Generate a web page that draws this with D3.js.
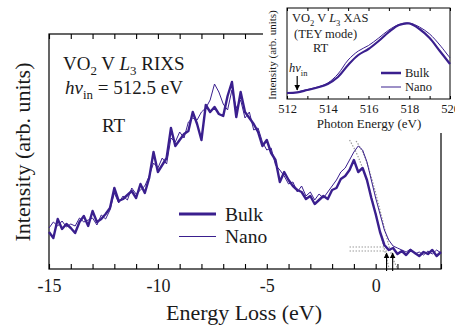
<!DOCTYPE html>
<html><head><meta charset="utf-8">
<script src="https://cdn.jsdelivr.net/npm/d3@7"></script>
<style>
body{margin:0;background:#fff}
svg{display:block}
svg text{font-family:"Liberation Serif","Times New Roman",serif;fill:#1a1a1a}
</style>
</head><body>
<svg id="c" width="455" height="330"></svg>
<script>
// ---------- Main RIXS data (energy loss grid: -15 .. 3 eV, step 0.2) ----------
const energyStart = -15, energyStep = 0.2;
const bulkRIXS = [37,31,50,40,45,41,36,47,53,43,58,47,50,55,61,81,68,70,74,78,
  71,85,76,91,117,97,104,111,141,123,129,135,138,157,145,129,164,157,162,155,
  153,173,187,152,177,157,151,145,137,123,129,116,109,87,97,89,83,79,77,70,
  73,65,69,73,70,79,81,90,93,99,109,97,101,89,71,55,37,24,19,21,
  15,18,14,19,16,13,17,15,19,13,17];
const nanoRIXS = [41,47,43,48,42,45,43,51,47,49,51,44,54,50,59,76,66,73,69,81,
  75,79,83,93,106,101,111,105,131,127,137,131,147,151,149,157,161,169,185,177,
  165,159,179,161,169,151,157,139,141,127,119,121,104,99,93,85,87,77,83,73,
  77,69,75,71,77,83,89,97,101,109,117,123,119,107,89,71,55,39,29,23,
  21,19,17,20,15,17,14,18,15,19,16];
// grey dotted edge fits
const fitBulkE = [-1.2,-0.8,-0.4,0.0,0.2,0.4,0.6];
const fitBulkV = [129,112,88,56,38,20,2];
const fitNanoE = [-0.9,-0.5,-0.1,0.3,0.6,0.8,1.0];
const fitNanoV = [128,112,84,50,24,10,1];
const baseLineE = [-1.2, 0.6];
const baseLineV = [22, 18];
const arrowE = [0.5, 0.78];
const mainTickLabels = [-15,-10,-5,0];

// ---------- Inset XAS data ----------
const xasE = [512,512.5,513,513.5,514,514.5,515,515.5,516,516.5,517,517.5,518,518.5,519,519.5,520];
const xasBulk = [6,6.5,9,11.5,15,22,34,44,50,58,67,74,75.5,70,61,48,35];
const xasNano = [6,7,9.5,12,16,25,39,48,53.5,61,69,74.5,76,72,65,54,41];
const xasTickLabels = [512,514,516,518,520];
const hvIn = 512.5;

const purple = "#3a1f8e";
const FONT = '"Liberation Serif","Times New Roman",serif';
const svg = d3.select("#c").attr("font-family", FONT);

// ---------- Main chart ----------
const x = d3.scaleLinear().domain([-15,3]).range([49,441]);
const y = d3.scaleLinear().domain([0,235]).range([269,34]);
const energies = bulkRIXS.map((_,i)=> +(energyStart + i*energyStep).toFixed(2));

const defs = svg.append("defs");
defs.append("marker").attr("id","ah").attr("viewBox","0 0 10 10").attr("refX",9).attr("refY",5)
  .attr("markerWidth",5).attr("markerHeight",6).attr("orient","auto")
  .append("path").attr("d","M0,0 L10,5 L0,10 z").attr("fill","#000");

// frame
svg.append("rect").attr("x",x(-15)).attr("y",y(235)).attr("width",x(3)-x(-15)).attr("height",y(0)-y(235))
  .attr("fill","none").attr("stroke","#000").attr("stroke-width",1.2);

const minorTicks = d3.range(-15,4,1);
const gB = svg.append("g").attr("transform",`translate(0,${y(0)})`)
  .call(d3.axisBottom(x).tickValues(minorTicks).tickSize(-5).tickPadding(10)
    .tickFormat(d=> mainTickLabels.includes(d) ? String(d) : ""));
gB.attr("font-family", FONT);
gB.select(".domain").remove();
gB.selectAll("line").attr("stroke","#000").attr("stroke-width",1.1);
gB.selectAll("text").attr("font-size",18).attr("fill","#1a1a1a");
const gT = svg.append("g").attr("transform",`translate(0,${y(235)})`)
  .call(d3.axisTop(x).tickValues(minorTicks).tickSize(-5).tickFormat(""));
gT.select(".domain").remove();
gT.selectAll("line").attr("stroke","#000").attr("stroke-width",1.1);

// grey dotted fits
const line = d3.line().x(d=>x(d[0])).y(d=>y(d[1]));
[[fitBulkE,fitBulkV],[fitNanoE,fitNanoV]].forEach(([e,v])=>{
  svg.append("path").attr("d", d3.line().curve(d3.curveMonotoneX).x(d=>x(d[0])).y(d=>y(d[1]))(e.map((d,i)=>[d,v[i]])))
    .attr("fill","none").attr("stroke","#9a9a9a").attr("stroke-width",1.2).attr("stroke-dasharray","1.5,1.5");
});
baseLineV.forEach(v=>{
  svg.append("path").attr("d", line(baseLineE.map(e=>[e,v])))
    .attr("fill","none").attr("stroke","#9a9a9a").attr("stroke-width",1.2).attr("stroke-dasharray","1.5,1.5");
});

// spectra
svg.append("path").attr("d", line(nanoRIXS.map((v,i)=>[energies[i],v])))
  .attr("fill","none").attr("stroke",purple).attr("stroke-width",1).attr("stroke-linejoin","round");
svg.append("path").attr("d", line(bulkRIXS.map((v,i)=>[energies[i],v])))
  .attr("fill","none").attr("stroke",purple).attr("stroke-width",2.4).attr("stroke-linejoin","round");

// arrows
arrowE.forEach(e=>{
  svg.append("line").attr("x1",x(e)).attr("x2",x(e)).attr("y1",y(-2)).attr("y2",y(16))
    .attr("stroke","#000").attr("stroke-width",1.1).attr("marker-end","url(#ah)");
});

// rich text helper
function rich(g, px, py, size, parts, anchor){
  const t = g.append("text").attr("x",px).attr("y",py).attr("font-size",size);
  if(anchor) t.attr("text-anchor",anchor);
  let shift = 0;
  parts.forEach(p=>{
    const s = t.append("tspan").text(p.t);
    const target = p.sub ? size*0.28 : 0;
    s.attr("dy", target - shift); shift = target;
    if(p.sub) s.attr("font-size", size*0.68);
    if(p.it) s.attr("font-style","italic");
  });
  return t;
}
rich(svg, 63, 70, 19, [{t:"VO"},{t:"2",sub:1},{t:" V "},{t:"L",it:1},{t:"3",sub:1},{t:" RIXS"}]);
rich(svg, 65, 94, 19, [{t:"hν",it:1},{t:"in",sub:1},{t:" = 512.5 eV"}]);
svg.append("text").attr("x",102).attr("y",132).attr("font-size",19).text("RT");

// legend
const legendItems = [["Bulk",2.8],["Nano",1.1]];
legendItems.forEach(([name,w],i)=>{
  const ly = 214 + i*22.5;
  svg.append("line").attr("x1",179).attr("x2",216).attr("y1",ly).attr("y2",ly)
    .attr("stroke",purple).attr("stroke-width",w);
  svg.append("text").attr("x",225).attr("y",ly+6.5).attr("font-size",19.5).text(name);
});

// axis labels
svg.append("text").attr("x",244).attr("y",320).attr("text-anchor","middle").attr("font-size",22).text("Energy Loss (eV)");
svg.append("text").attr("transform","translate(30,152) rotate(-90)").attr("text-anchor","middle")
  .attr("font-size",22).text("Intensity (arb. units)");

// ---------- Inset ----------
svg.append("rect").attr("x",263).attr("y",0).attr("width",192).attr("height",133).attr("fill","#fff");
const xi = d3.scaleLinear().domain([512,520]).range([287,450]);
const yi = d3.scaleLinear().domain([0,91]).range([99,8]);
svg.append("rect").attr("x",xi(512)).attr("y",yi(91)).attr("width",xi(520)-xi(512)).attr("height",yi(0)-yi(91))
  .attr("fill","none").attr("stroke","#000").attr("stroke-width",1);
const iTicks = d3.range(512,521,1);
const giB = svg.append("g").attr("transform",`translate(0,${yi(0)})`)
  .call(d3.axisBottom(xi).tickValues(iTicks).tickSize(-3).tickPadding(5)
    .tickFormat(d=> xasTickLabels.includes(d) ? String(d) : ""));
giB.attr("font-family", FONT);
giB.select(".domain").remove();
giB.selectAll("line").attr("stroke","#000");
giB.selectAll("text").attr("font-size",12.5).attr("fill","#1a1a1a");
const giT = svg.append("g").attr("transform",`translate(0,${yi(91)})`)
  .call(d3.axisTop(xi).tickValues(iTicks).tickSize(-3).tickFormat(""));
giT.select(".domain").remove();
giT.selectAll("line").attr("stroke","#000");

const lineI = d3.line().curve(d3.curveCatmullRom).x(d=>xi(d[0])).y(d=>yi(d[1]));
svg.append("path").attr("d", lineI(xasNano.map((v,i)=>[xasE[i],v])))
  .attr("fill","none").attr("stroke",purple).attr("stroke-width",1);
svg.append("path").attr("d", lineI(xasBulk.map((v,i)=>[xasE[i],v])))
  .attr("fill","none").attr("stroke",purple).attr("stroke-width",2.2);

rich(svg, 292, 22, 12.5, [{t:"VO"},{t:"2",sub:1},{t:" V "},{t:"L",it:1},{t:"3",sub:1},{t:" XAS"}]);
svg.append("text").attr("x",294).attr("y",38).attr("font-size",12.5).text("(TEY mode)");
svg.append("text").attr("x",313).attr("y",52).attr("font-size",12.5).text("RT");
rich(svg, 289, 72, 12.5, [{t:"hν",it:1},{t:"in",sub:1}]);
svg.append("line").attr("x1",xi(hvIn)).attr("x2",xi(hvIn)).attr("y1",76).attr("y2",90)
  .attr("stroke","#000").attr("stroke-width",1.2).attr("marker-end","url(#ah)");

legendItems.forEach(([name,w],i)=>{
  const ly = 73 + i*14;
  svg.append("line").attr("x1",381).attr("x2",401).attr("y1",ly).attr("y2",ly)
    .attr("stroke",purple).attr("stroke-width",w*0.9);
  svg.append("text").attr("x",405).attr("y",ly+4).attr("font-size",12.5).text(name);
});
svg.append("text").attr("x",369).attr("y",128).attr("text-anchor","middle").attr("font-size",13).text("Photon Energy (eV)");
svg.append("text").attr("transform","translate(276,55) rotate(-90)").attr("text-anchor","middle")
  .attr("font-size",11).text("Intensity (arb. units)");
</script>
</body></html>
